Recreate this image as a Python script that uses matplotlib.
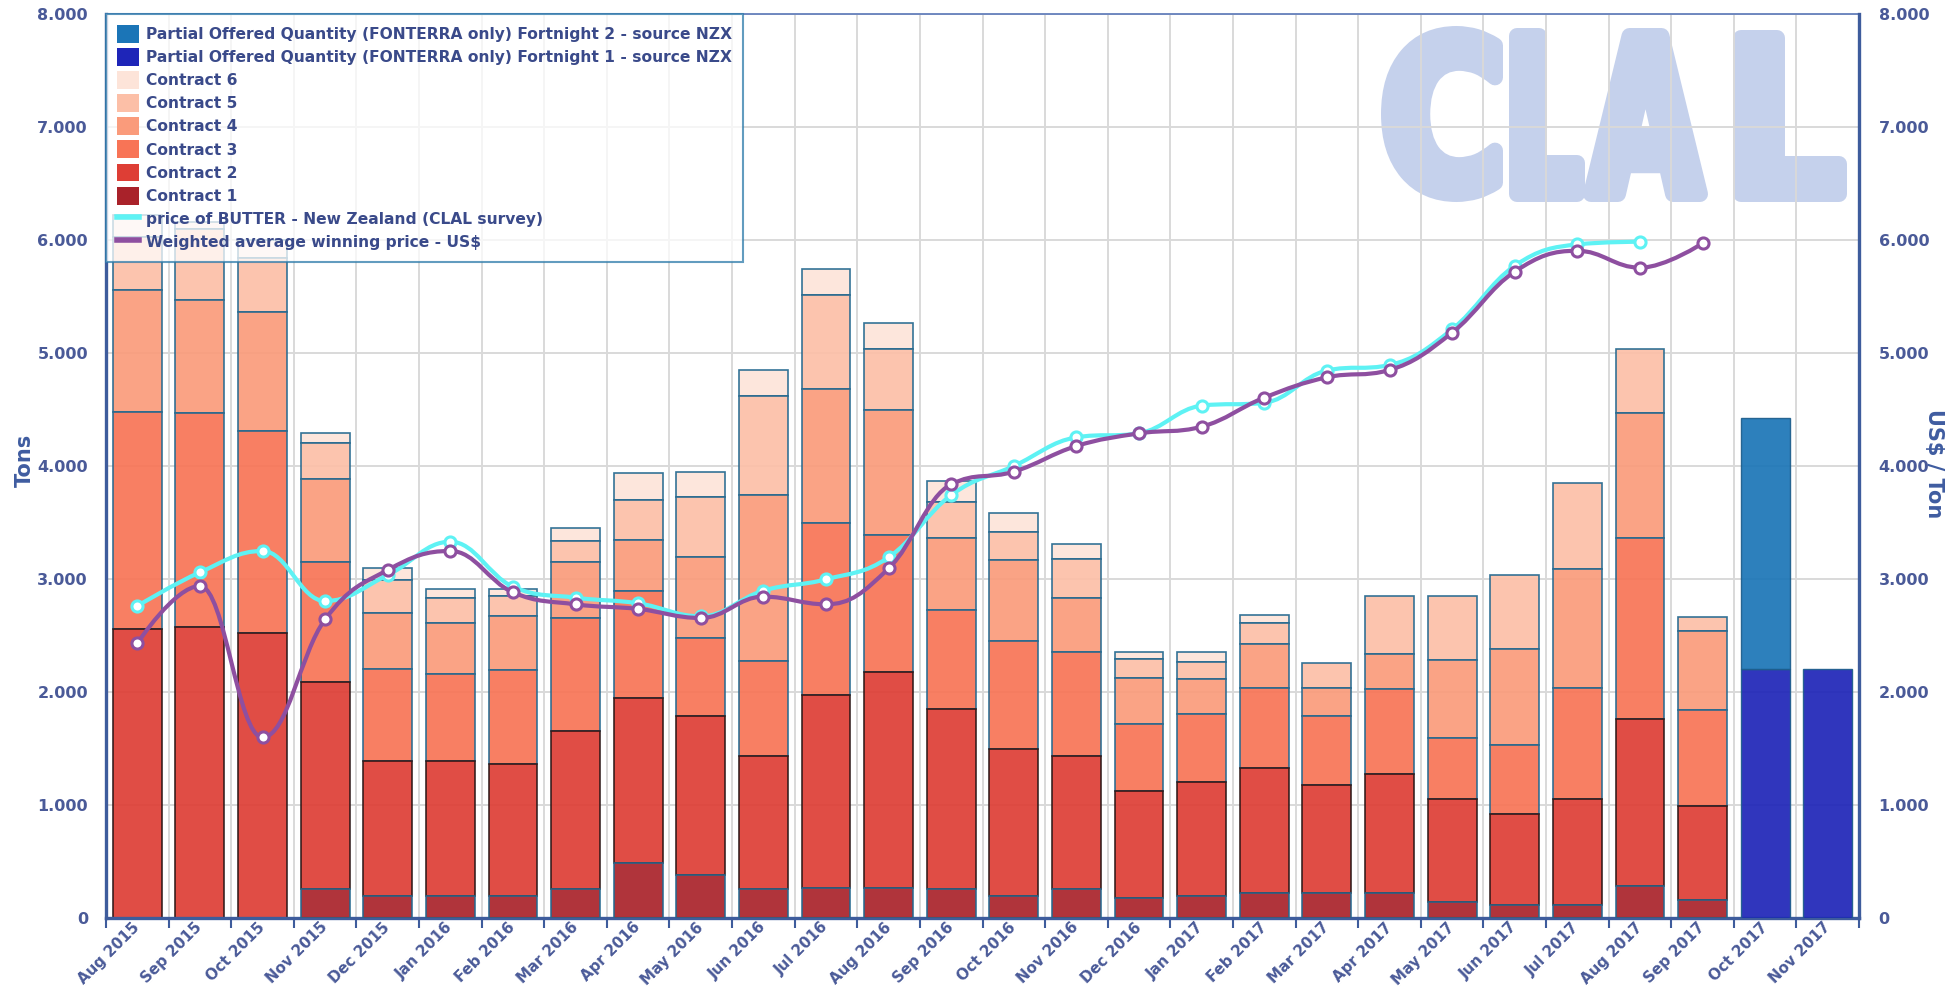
import numpy as np
import matplotlib
matplotlib.use('Agg')
import matplotlib.pyplot as plt
from matplotlib.path import Path
from matplotlib.patches import PathPatch, Patch
from matplotlib.lines import Line2D
from matplotlib.textpath import TextPath
from matplotlib.font_manager import FontProperties
from matplotlib.transforms import Affine2D

months = ['Aug 2015', 'Sep 2015', 'Oct 2015', 'Nov 2015', 'Dec 2015', 'Jan 2016',
          'Feb 2016', 'Mar 2016', 'Apr 2016', 'May 2016', 'Jun 2016', 'Jul 2016',
          'Aug 2016', 'Sep 2016', 'Oct 2016', 'Nov 2016', 'Dec 2016', 'Jan 2017',
          'Feb 2017', 'Mar 2017', 'Apr 2017', 'May 2017', 'Jun 2017', 'Jul 2017',
          'Aug 2017', 'Sep 2017', 'Oct 2017', 'Nov 2017']

# tons per contract (stacked)
contract_1 = [0, 0, 0, 254, 195, 195, 195, 254, 484, 378, 254, 268, 268, 254,
              195, 254, 180, 195, 224, 224, 224, 145, 115, 115, 286, 159, 0, 0]
contract_2 = [2557, 2578, 2519, 1832, 1191, 1191, 1165, 1398, 1460, 1413, 1183, 1705,
              1909, 1598, 1303, 1183, 947, 1009, 1100, 956, 1047, 908, 802, 938,
              1475, 835, 0, 0]
contract_3 = [1924, 1888, 1791, 1067, 818, 770, 832, 1000, 953, 690, 840, 1526,
              1212, 877, 953, 920, 587, 598, 708, 610, 752, 543, 614, 985,
              1599, 847, 0, 0]
contract_4 = [1077, 1003, 1050, 729, 492, 452, 478, 501, 448, 711, 1466, 1179,
              1107, 631, 717, 478, 413, 310, 389, 245, 310, 687, 847, 1048,
              1106, 702, 0, 0]
contract_5 = [471, 626, 480, 325, 295, 227, 183, 186, 354, 537, 879, 835,
              539, 318, 251, 339, 168, 156, 187, 219, 520, 570, 657, 767,
              569, 124, 0, 0]
contract_6 = [192, 65, 160, 89, 103, 74, 56, 109, 242, 215, 228, 227,
              233, 192, 168, 136, 62, 89, 73, 0, 0, 0, 0, 0,
              0, 0, 0, 0]
fortnight_1 = [0, 0, 0, 0, 0, 0, 0, 0, 0, 0, 0, 0, 0, 0,
               0, 0, 0, 0, 0, 0, 0, 0, 0, 0, 0, 0, 2204, 2204]
fortnight_2 = [0, 0, 0, 0, 0, 0, 0, 0, 0, 0, 0, 0, 0, 0,
               0, 0, 0, 0, 0, 0, 0, 0, 0, 0, 0, 0, 2218, 0]

# US$ / ton
butter_nz_price = [2761, 3059, 3248, 2805, 3035, 3330, 2932, 2835, 2785, 2670,
                   2897, 2997, 3192, 3743, 4000, 4254, 4290, 4534, 4560, 4845,
                   4894, 5210, 5772, 5961, 5985]
weighted_avg_price = [2430, 2938, 1599, 2643, 3080, 3248, 2882, 2776, 2735, 2655,
                      2844, 2776, 3094, 3838, 3950, 4177, 4289, 4348, 4605, 4785,
                      4850, 5180, 5720, 5905, 5755, 5971]

axis_col = '#3E5C9C'
label_col = '#4A5A98'
text_col = '#3A4A8A'
logo_col = '#C5D1EC'


def spline_path(xs, ys, smoothing=1.5):
    # highcharts-like spline
    n = len(xs)
    left = [None] * n
    right = [None] * n
    den = smoothing + 1
    for i in range(1, n - 1):
        px, py = xs[i], ys[i]
        lx, ly = xs[i - 1], ys[i - 1]
        nx, ny = xs[i + 1], ys[i + 1]
        lcx = (smoothing * px + lx) / den
        lcy = (smoothing * py + ly) / den
        rcx = (smoothing * px + nx) / den
        rcy = (smoothing * py + ny) / den
        if rcx != lcx:
            corr = (rcy - lcy) * (rcx - px) / (rcx - lcx) + py - rcy
            lcy += corr
            rcy += corr
        if lcy > ly and lcy > py:
            lcy = max(ly, py)
            rcy = 2 * py - lcy
        elif lcy < ly and lcy < py:
            lcy = min(ly, py)
            rcy = 2 * py - lcy
        if rcy > ny and rcy > py:
            rcy = max(ny, py)
            lcy = 2 * py - rcy
        elif rcy < ny and rcy < py:
            rcy = min(ny, py)
            lcy = 2 * py - rcy
        left[i] = (lcx, lcy)
        right[i] = (rcx, rcy)
    verts = [(xs[0], ys[0])]
    codes = [Path.MOVETO]
    for i in range(1, n):
        verts.append(right[i - 1] or (xs[i - 1], ys[i - 1]))
        verts.append(left[i] or (xs[i], ys[i]))
        verts.append((xs[i], ys[i]))
        codes += [Path.CURVE4] * 3
    return Path(verts, codes)


def logo_letter(a, ch, x0, x1, ytop, ybot, stroke=16):
    # one letter of the watermark, fitted in a pixel box (top-left origin)
    tp = TextPath((0, 0), ch, size=100, prop=FontProperties(family='DejaVu Sans', weight='bold'))
    ext = tp.get_extents()
    h = stroke / 2
    sx = (x1 - x0 - 2 * h) / ext.width
    sy = (ybot - ytop - 2 * h) / ext.height
    tr = Affine2D().translate(-ext.x0, -ext.y0).scale(sx, sy).translate(x0 + h, 989 - ybot + h)
    a.add_patch(PathPatch(tp, transform=tr, facecolor=logo_col, edgecolor=logo_col,
                          lw=stroke * 0.72, joinstyle='round', zorder=0.3, clip_on=False))


fig = plt.figure(figsize=(19.52, 9.89), dpi=100)
ax = fig.add_axes([0.0543, 0.0718, 0.8981, 0.914])
ax2 = ax.twinx()

x = np.arange(len(months))
bw = 0.78

series = [
    ('Contract 1', contract_1, '#A9222A', '#23688F', 2.6),
    ('Contract 2', contract_2, '#DE3E35', '#2a1616', 2.5),
    ('Contract 3', contract_3, '#F87456', '#23688F', 2.4),
    ('Contract 4', contract_4, '#FA9B7B', '#23688F', 2.3),
    ('Contract 5', contract_5, '#FCBFA7', '#23688F', 2.2),
    ('Contract 6', contract_6, '#FDE4D9', '#23688F', 2.1),
]
bottom = np.zeros(len(months))
for name, vals, col, ec, z in series:
    v = np.array(vals, dtype=float)
    m = v > 0
    ax.bar(x[m], v[m], bottom=bottom[m], width=bw, color=col, alpha=0.92,
           edgecolor=ec, linewidth=1.2, zorder=z)
    bottom += v

f1 = np.array(fortnight_1, dtype=float)
f2 = np.array(fortnight_2, dtype=float)
m = f1 > 0
ax.bar(x[m], f1[m], width=bw, color='#1E25B8', alpha=0.92,
       edgecolor='#1d5d8c', linewidth=1.0, zorder=2.7)
m = f2 > 0
ax.bar(x[m], f2[m], bottom=f1[m], width=bw, color='#1B75B7', alpha=0.92,
       edgecolor='#1d5d8c', linewidth=1.0, zorder=2.7)

# price lines on the right axis
xb = np.arange(len(butter_nz_price))
xw = np.arange(len(weighted_avg_price))
ax2.add_patch(PathPatch(spline_path(xb, butter_nz_price), fill=False,
                        edgecolor='#5EF2F4', lw=3.0, zorder=3, capstyle='round'))
ax2.plot(xb, butter_nz_price, 'o', ms=8, mfc='white', mec='#5EF2F4', mew=2.2, zorder=3.1)
ax2.add_patch(PathPatch(spline_path(xw, weighted_avg_price), fill=False,
                        edgecolor='#8E4FA0', lw=3.0, zorder=4, capstyle='round'))
ax2.plot(xw, weighted_avg_price, 'o', ms=8, mfc='white', mec='#8E4FA0', mew=2.2, zorder=4.1)

for a in (ax, ax2):
    a.set_xlim(-0.5, len(months) - 0.5)
    a.set_ylim(0, 8000)

yt = np.arange(0, 8001, 1000)
ylabels = ['{:,}'.format(v).replace(',', '.') for v in yt]
ax.set_yticks(yt)
ax.set_yticklabels(ylabels)
ax2.set_yticks(yt)
ax2.set_yticklabels(ylabels)

ax.set_xticks(x)
ax.set_xticklabels(months, rotation=45, ha='right', va='center', rotation_mode='anchor')
ax.set_xticks(np.arange(-0.5, len(months), 1), minor=True)

for lab in ax.get_yticklabels() + ax2.get_yticklabels():
    lab.set_fontsize(11.5)
    lab.set_fontweight('bold')
    lab.set_color(label_col)
for lab in ax.get_xticklabels():
    lab.set_fontsize(10.8)
    lab.set_fontweight('bold')
    lab.set_color(label_col)

ax.tick_params(axis='x', which='major', length=0, pad=5)
ax.tick_params(axis='x', which='minor', length=7, width=1.5, color=axis_col)
ax.tick_params(axis='y', length=0, pad=13)
ax2.tick_params(axis='y', length=0, pad=14)

ax.set_axisbelow(True)
ax.grid(which='minor', axis='x', color='#D9D9D9', lw=1.4)
ax.grid(which='major', axis='y', color='#D9D9D9', lw=1.4)
ax.grid(which='major', axis='x', visible=False)

ax.spines['left'].set_color(axis_col)
ax.spines['left'].set_linewidth(2.4)
ax.spines['bottom'].set_color(axis_col)
ax.spines['bottom'].set_linewidth(2.4)
ax.spines['top'].set_color('#6580BC')
ax.spines['top'].set_linewidth(1.3)
ax.spines['right'].set_visible(False)
for s in ('left', 'top', 'bottom'):
    ax2.spines[s].set_visible(False)
ax2.spines['right'].set_color(axis_col)
ax2.spines['right'].set_linewidth(2.4)

fig.text(0.0128, 0.534, 'Tons', rotation=90, ha='center', va='center',
         fontsize=15, fontweight='bold', color='#3F5CA0')
fig.text(0.991, 0.531, 'US$ / Ton', rotation=270, ha='center', va='center',
         fontsize=15, fontweight='bold', color='#3F5CA0')

# CLAL watermark behind the grid
logo_letter(ax, 'C', 1381, 1503, 26, 202)
logo_letter(ax, 'L', 1509, 1585, 28, 202)
logo_letter(ax, 'A', 1583, 1708, 28, 202)
logo_letter(ax, 'L', 1733, 1847, 30, 202)

handles = [
    Patch(facecolor='#1B75B7', edgecolor='none'),
    Patch(facecolor='#1E25B8', edgecolor='none'),
    Patch(facecolor='#FDE4D9', edgecolor='none'),
    Patch(facecolor='#FCBFA7', edgecolor='none'),
    Patch(facecolor='#FA9B7B', edgecolor='none'),
    Patch(facecolor='#F87456', edgecolor='none'),
    Patch(facecolor='#DE3E35', edgecolor='none'),
    Patch(facecolor='#A9222A', edgecolor='none'),
    Line2D([], [], color='#5EF2F4', lw=4),
    Line2D([], [], color='#8E4FA0', lw=4),
]
labels = [
    'Partial Offered Quantity (FONTERRA only) Fortnight 2 - source NZX',
    'Partial Offered Quantity (FONTERRA only) Fortnight 1 - source NZX',
    'Contract 6', 'Contract 5', 'Contract 4', 'Contract 3', 'Contract 2', 'Contract 1',
    'price of BUTTER - New Zealand (CLAL survey)',
    'Weighted average winning price - US$',
]
leg = ax2.legend(handles, labels, loc='upper left', bbox_to_anchor=(0, 1),
                 borderaxespad=0, fancybox=False, framealpha=0.75,
                 edgecolor='#2E7BAA', prop=dict(size=11.2, weight='bold'),
                 handlelength=1.4, handleheight=1.4, labelspacing=0.33,
                 handletextpad=0.5, borderpad=0.7)
leg.get_frame().set_linewidth(1.5)
for t in leg.get_texts():
    t.set_color(text_col)

fig.savefig('out.png', dpi=100)
